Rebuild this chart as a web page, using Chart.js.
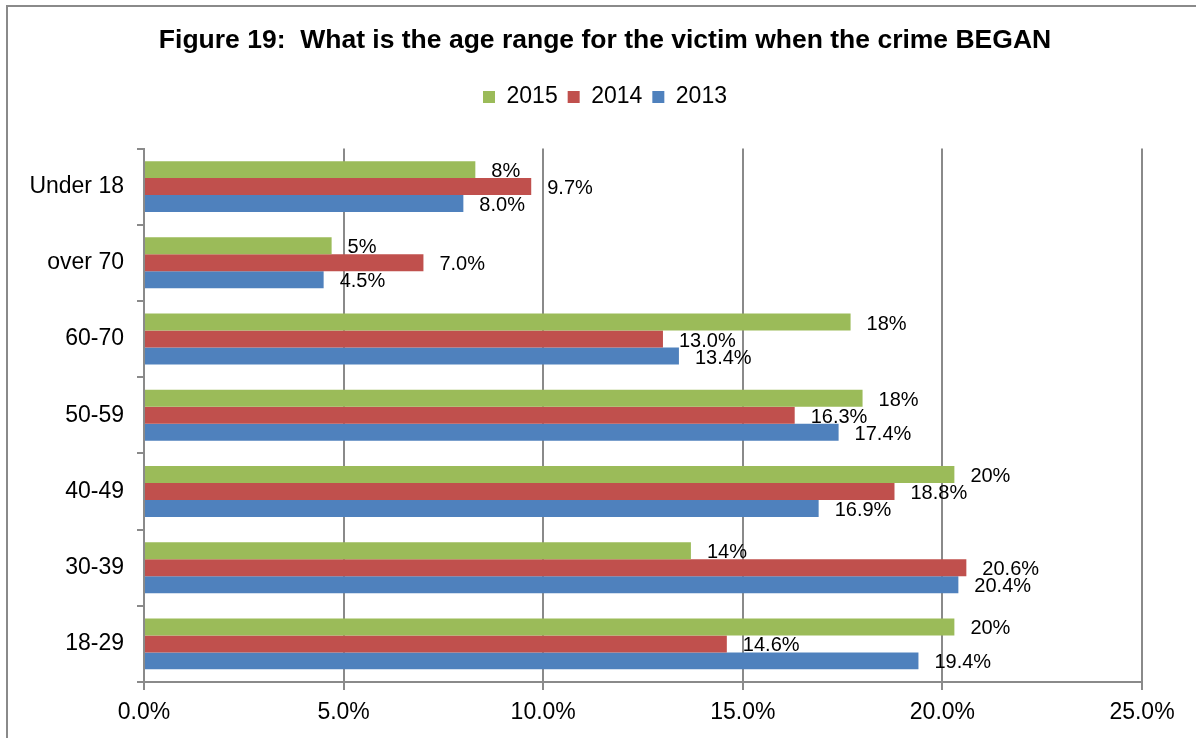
<!DOCTYPE html>
<html>
<head>
<meta charset="utf-8">
<script src="https://cdn.jsdelivr.net/npm/chart.js@4.4.1/dist/chart.umd.min.js"></script>
<style>
  html, body { margin: 0; padding: 0; background: #fff; overflow: hidden; }
  #wrap { position: relative; width: 1196px; height: 738px; }
  #frame {
    position: absolute; left: 6px; top: 5px; width: 1300px; height: 800px;
    border: 2px solid #8a8a8a; pointer-events: none;
  }
</style>
</head>
<body>
<div id="wrap">
  <canvas id="chart" width="1196" height="738"></canvas>
  <div id="frame"></div>
</div>
<script>
const ageGroups = ['Under 18', 'over 70', '60-70', '50-59', '40-49', '30-39', '18-29'];
const values2015 = [8.3, 4.7, 17.7, 18.0, 20.3, 13.7, 20.3];
const values2014 = [9.7, 7.0, 13.0, 16.3, 18.8, 20.6, 14.6];
const values2013 = [8.0, 4.5, 13.4, 17.4, 16.9, 20.4, 19.4];
const xTicks = [0, 5, 10, 15, 20, 25];

const FONT = '"Liberation Sans", Arial, sans-serif';
const GRID = '#8a8a8a';

// extra gap between the legend and the plot
const legendGap = {
  id: 'legendGap',
  beforeInit(chart) {
    const fit = chart.legend.fit;
    chart.legend.fit = function () {
      fit.bind(chart.legend)();
      this.height += 30;
    };
  }
};

// value text to the right of each bar
const barLabels = {
  id: 'barLabels',
  afterDatasetsDraw(chart) {
    const ctx = chart.ctx;
    ctx.save();
    ctx.font = '20px ' + FONT;
    ctx.fillStyle = '#000';
    ctx.textAlign = 'left';
    ctx.textBaseline = 'middle';
    chart.data.datasets.forEach((ds, i) => {
      chart.getDatasetMeta(i).data.forEach((bar, j) => {
        const v = ds.data[j];
        ctx.fillText(v.toFixed(ds.decimals) + '%', bar.x + 16, bar.y + 2);
      });
    });
    ctx.restore();
  }
};

new Chart(document.getElementById('chart').getContext('2d'), {
  type: 'bar',
  data: {
    labels: ageGroups,
    datasets: [
      { label: '2015', data: values2015, backgroundColor: '#9bbb59', decimals: 0 },
      { label: '2014', data: values2014, backgroundColor: '#c0504d', decimals: 1 },
      { label: '2013', data: values2013, backgroundColor: '#4f81bd', decimals: 1 },
    ],
  },
  options: {
    indexAxis: 'y',
    responsive: false,
    animation: false,
    categoryPercentage: 0.668,
    barPercentage: 1.0,
    layout: { padding: { top: 10, left: 14, right: 0, bottom: 0 } },
    plugins: {
      title: {
        display: true,
        text: 'Figure 19:  What is the age range for the victim when the crime BEGAN',
        color: '#000',
        font: { family: FONT, size: 26.5, weight: 'bold', lineHeight: 1.2 },
        padding: { top: 15, bottom: 18.7 },
      },
      legend: {
        display: true,
        position: 'top',
        labels: {
          color: '#000',
          font: { family: FONT, size: 23 },
          boxWidth: 12,
          boxHeight: 12,
          padding: 10,
        },
      },
      tooltip: { enabled: false },
    },
    scales: {
      x: {
        min: 0,
        max: 25,
        afterBuildTicks: (scale) => { scale.ticks = xTicks.map(v => ({ value: v })); },
        afterFit: (scale) => { scale.height = 56; },
        ticks: {
          color: '#000',
          font: { family: FONT, size: 23 },
          padding: 9,
          maxRotation: 0,
          callback: (v) => v.toFixed(1) + '%',
        },
        grid: { color: GRID, lineWidth: 2, tickLength: 8, drawTicks: true },
        border: { color: GRID, width: 2 },
      },
      y: {
        afterFit: (scale) => { scale.width = 130; },
        ticks: {
          color: '#000',
          font: { family: FONT, size: 23 },
          padding: 13,
        },
        grid: { offset: true, drawOnChartArea: false, color: GRID, lineWidth: 2, tickLength: 7 },
        border: { color: GRID, width: 2 },
      },
      // empty strip on the right, keeps the plot narrower than the title row
      yRight: {
        type: 'linear',
        position: 'right',
        display: true,
        afterFit: (scale) => { scale.width = 54; },
        ticks: { display: false },
        grid: { display: false },
        border: { display: false },
      },
    },
  },
  plugins: [legendGap, barLabels],
});
</script>
</body>
</html>
